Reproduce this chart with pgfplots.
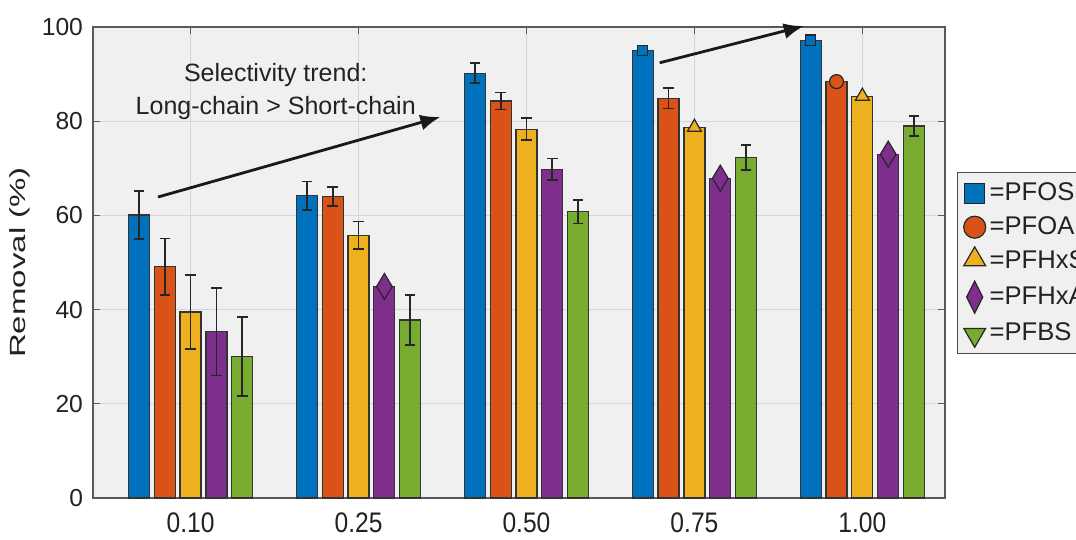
\documentclass[border=0pt]{standalone}
\usepackage{fontspec}
\setmainfont{Liberation Sans}
\usepackage{graphicx}
\usepackage{pgfplots}
\usepackage{pgfplotstable}
\pgfplotsset{compat=1.18}
\usetikzlibrary{arrows.meta}
\definecolor{cA}{HTML}{0072BD}
\definecolor{cB}{HTML}{D95319}
\definecolor{cC}{HTML}{EDB120}
\definecolor{cD}{HTML}{7E2F8E}
\definecolor{cE}{HTML}{77AC30}
\definecolor{bg}{HTML}{F0F0F0}
\definecolor{gridc}{HTML}{D6D6D6}
\definecolor{txt}{HTML}{222222}

% bar heights (x = group index + offset within group)
\pgfplotstableread{
x y
-0.308 60.1
0.692 64.2
1.692 90.2
2.692 95.0
3.692 97.2
}\bA
\pgfplotstableread{
x y
-0.154 49.1
0.846 64.0
1.846 84.3
2.846 84.9
3.846 88.4
}\bB
\pgfplotstableread{
x y
0.000 39.5
1.000 55.8
2.000 78.3
3.000 78.7
4.000 85.3
}\bC
\pgfplotstableread{
x y
0.154 35.3
1.154 44.9
2.154 69.8
3.154 67.9
4.154 73.0
}\bD
\pgfplotstableread{
x y
0.308 30.0
1.308 37.8
2.308 60.8
3.308 72.3
4.308 79.0
}\bE
% error bars
\pgfplotstableread{
x y e
-0.308 60.1 5.1
0.692 64.2 3.0
1.692 90.2 2.1
}\eA
\pgfplotstableread{
x y e
-0.154 49.1 6.0
0.846 64.0 2.0
1.846 84.3 1.8
2.846 84.9 2.2
}\eB
\pgfplotstableread{
x y e
0.000 39.5 7.9
1.000 55.8 2.9
2.000 78.3 2.3
}\eC
\pgfplotstableread{
x y e
0.154 35.3 9.3
2.154 69.8 2.3
}\eD
\pgfplotstableread{
x y e
0.308 30.0 8.4
1.308 37.8 5.3
2.308 60.8 2.5
3.308 72.3 2.6
4.308 79.0 2.1
}\eE

\pgfplotsset{
  mybar/.style={ybar, bar width=10.5pt, bar shift=0pt, fill=#1, draw=black!80, line width=0.6pt, forget plot},
  myerr/.style={draw=none, forget plot, error bars/.cd, y dir=both, y explicit,
     error bar style={draw=black!85, line width=0.9pt},
     error mark options={rotate=90, mark size=2.6pt, draw=black!85, line width=0.9pt}},
}
\newcommand{\xl}[1]{\scalebox{1}[1.15]{#1}}

\begin{document}
\begin{tikzpicture}
\begin{axis}[name=ax,
  scale only axis, width=426pt, height=235.5pt,
  xmin=-0.581, xmax=4.492, ymin=0, ymax=100,
  xtick={0,1,2,3,4}, xticklabels={\xl{0.10},\xl{0.25},\xl{0.50},\xl{0.75},\xl{1.00}},
  ytick={0,20,40,60,80,100},
  tick align=inside, tick pos=both, major tick length=3.5pt,
  tick style={draw=black!65, line width=0.5pt},
  grid=major, major grid style={draw=gridc, line width=0.6pt},
  axis background/.style={fill=bg},
  axis line style={draw=black!65, line width=0.7pt},
  ticklabel style={font=\fontsize{12.3}{14}\selectfont, text=txt},
  /pgf/number format/assume math mode=true,
  yticklabel style={xshift=-1.5pt},
  xticklabel style={yshift=-4pt},
  ylabel={\scalebox{1.5}[1]{Removal (\%)}},
  ylabel style={font=\fontsize{11}{12}\selectfont, text=txt, at={(axis description cs:-0.0857,0.5)}, anchor=center},
  clip=false,
  legend style={at={(axis description cs:1,1)}, anchor=north west, xshift=6pt, yshift=-72.5pt,
     fill=bg, draw=black!70, line width=0.7pt, font=\fontsize{12.8}{15}\selectfont, text=txt,
     row sep=2.6pt, inner sep=3pt, legend cell align=left,
     /tikz/every even column/.append style={column sep=1pt}},
]
\addlegendimage{legend image code/.code={\draw[mark=square*, mark size=5pt, mark options={fill=cA, draw=black!85, line width=0.6pt}] plot coordinates {(6pt,0pt)};}}
\addlegendentry{=PFOS}
\addlegendimage{legend image code/.code={\draw[mark=*, mark size=5.5pt, mark options={fill=cB, draw=black!85, line width=0.6pt}] plot coordinates {(6pt,0pt)};}}
\addlegendentry{=PFOA}
\addlegendimage{legend image code/.code={\draw[mark=triangle*, mark size=6.3pt, mark options={fill=cC, draw=black!85, line width=0.6pt}] plot coordinates {(6pt,1pt)};}}
\addlegendentry{=PFHxS}
\addlegendimage{legend image code/.code={\draw[mark=diamond*, mark size=8pt, mark options={xscale=0.67, fill=cD, draw=black!85, line width=0.6pt}] plot coordinates {(6pt,0pt)};}}
\addlegendentry{=PFHxA}
\addlegendimage{legend image code/.code={\draw[mark=triangle*, mark size=6.3pt, mark options={rotate=180, fill=cE, draw=black!85, line width=0.6pt}] plot coordinates {(6pt,-1pt)};}}
\addlegendentry{=PFBS}

\addplot[mybar=cA] table[x=x,y=y] {\bA};
\addplot[mybar=cB] table[x=x,y=y] {\bB};
\addplot[mybar=cC] table[x=x,y=y] {\bC};
\addplot[mybar=cD] table[x=x,y=y] {\bD};
\addplot[mybar=cE] table[x=x,y=y] {\bE};

\addplot[myerr] table[x=x,y=y,y error=e] {\eA};
\addplot[myerr] table[x=x,y=y,y error=e] {\eB};
\addplot[myerr] table[x=x,y=y,y error=e] {\eC};
\addplot[myerr] table[x=x,y=y,y error=e] {\eD};
\addplot[myerr] table[x=x,y=y,y error=e] {\eE};

\addplot[only marks, forget plot, mark=square*, mark size=2.6pt, mark options={fill=cA, draw=black!85, line width=0.6pt}] coordinates {(2.692,95.0) (3.692,97.2)};
\addplot[only marks, forget plot, mark=*, mark size=3.5pt, mark options={fill=cB, draw=black!85, line width=0.6pt}] coordinates {(3.846,88.4)};
\addplot[only marks, forget plot, mark=triangle*, mark size=4pt, mark options={fill=cC, draw=black!85, line width=0.6pt}] coordinates {(3.000,78.7) (4.000,85.3)};
\addplot[only marks, forget plot, mark=diamond*, mark size=6.5pt, mark options={xscale=0.8, fill=cD, draw=black!85, line width=0.6pt}] coordinates {(1.154,44.9) (3.154,67.9) (4.154,73.0)};

\draw[-{Latex[length=10pt,width=8pt]}, line width=1.4pt, black!90] (axis cs:-0.194,63.9) -- (axis cs:1.487,80.9);
\draw[-{Latex[length=10pt,width=8pt]}, line width=1.4pt, black!90] (axis cs:2.793,92.4) -- (axis cs:3.651,100.2);
\node[font=\fontsize{12.5}{16.5}\selectfont, align=center, text=txt] at (axis cs:0.507,86.3) {Selectivity trend:\\Long-chain > Short-chain};
\end{axis}
\pgfresetboundingbox
\path[use as bounding box] ([xshift=-46.5pt,yshift=-21pt]ax.south west) rectangle ([xshift=65.5pt,yshift=13.5pt]ax.north east);
\end{tikzpicture}
\end{document}
